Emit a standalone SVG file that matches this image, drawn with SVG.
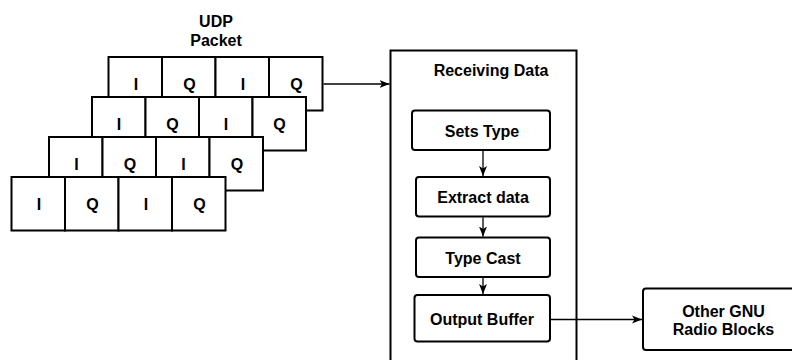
<svg xmlns="http://www.w3.org/2000/svg" width="792" height="360" viewBox="0 0 792 360">
  <defs>
    <style>
      .cell { fill: #ffffff; stroke: #000000; stroke-width: 2; }
      .box { fill: #ffffff; stroke: #000000; stroke-width: 2; }
      .t { font-family: "Liberation Sans", Arial, sans-serif; font-weight: bold; font-size: 16px; fill: #000000; text-anchor: middle; }
      .edge { fill: none; stroke: #000000; stroke-width: 1.3; }
    </style>
    <marker id="arrow" markerUnits="userSpaceOnUse" markerWidth="12" markerHeight="10" refX="10" refY="5" orient="auto">
      <path d="M0,1 L10,5 L0,9 L2.5,5 Z" fill="#000000"/>
    </marker>
  </defs>
  <rect width="792" height="360" fill="#ffffff"/>

  <g id="udp-label">
    <text class="t" x="216" y="26.5">UDP</text>
    <text class="t" x="216" y="45.5">Packet</text>
  </g>

  <g id="packet-row-1">
    <rect class="cell" x="108.5" y="57" width="53.5" height="53.5"/>
    <rect class="cell" x="162" y="57" width="53.5" height="53.5"/>
    <rect class="cell" x="215.5" y="57" width="53.5" height="53.5"/>
    <rect class="cell" x="269" y="57" width="53.5" height="53.5"/>
    <text class="t" x="136" y="90">I</text>
    <text class="t" x="189.5" y="90">Q</text>
    <text class="t" x="243" y="90">I</text>
    <text class="t" x="296.5" y="90">Q</text>
  </g>

  <g id="packet-row-2">
    <rect class="cell" x="92" y="97" width="53.5" height="53.5"/>
    <rect class="cell" x="145.5" y="97" width="53.5" height="53.5"/>
    <rect class="cell" x="199" y="97" width="53.5" height="53.5"/>
    <rect class="cell" x="252.5" y="97" width="53.5" height="53.5"/>
    <text class="t" x="119" y="130">I</text>
    <text class="t" x="172.5" y="130">Q</text>
    <text class="t" x="226" y="130">I</text>
    <text class="t" x="279.5" y="130">Q</text>
  </g>

  <g id="packet-row-3">
    <rect class="cell" x="49" y="137" width="53.5" height="53.5"/>
    <rect class="cell" x="102.5" y="137" width="53.5" height="53.5"/>
    <rect class="cell" x="156" y="137" width="53.5" height="53.5"/>
    <rect class="cell" x="209.5" y="137" width="53.5" height="53.5"/>
    <text class="t" x="76.5" y="169.5">I</text>
    <text class="t" x="130" y="169.5">Q</text>
    <text class="t" x="183.5" y="169.5">I</text>
    <text class="t" x="237" y="169.5">Q</text>
  </g>

  <g id="packet-row-4">
    <rect class="cell" x="11.5" y="177" width="53.5" height="53.5"/>
    <rect class="cell" x="65" y="177" width="53.5" height="53.5"/>
    <rect class="cell" x="118.5" y="177" width="53.5" height="53.5"/>
    <rect class="cell" x="172" y="177" width="53.5" height="53.5"/>
    <text class="t" x="39" y="210">I</text>
    <text class="t" x="92.5" y="210">Q</text>
    <text class="t" x="146" y="210">I</text>
    <text class="t" x="199.5" y="210">Q</text>
  </g>

  <g id="receiving-data">
    <rect class="box" x="390.5" y="50.5" width="186" height="330"/>
    <text class="t" x="491" y="76">Receiving Data</text>
  </g>

  <g id="sets-type">
    <rect class="box" x="412" y="110.5" width="138" height="39.5" rx="3"/>
    <text class="t" x="482" y="136.5">Sets Type</text>
  </g>

  <g id="extract-data">
    <rect class="box" x="416" y="177" width="134" height="39.5" rx="3"/>
    <text class="t" x="483" y="203">Extract data</text>
  </g>

  <g id="type-cast">
    <rect class="box" x="416" y="237.5" width="134" height="39.5" rx="3"/>
    <text class="t" x="483" y="263.5">Type Cast</text>
  </g>

  <g id="output-buffer">
    <rect class="box" x="414.5" y="295" width="135.5" height="46.5" rx="3"/>
    <text class="t" x="482" y="324.5">Output Buffer</text>
  </g>

  <g id="other-gnu">
    <rect class="box" x="643" y="288.5" width="170" height="61.5" rx="3"/>
    <text class="t" x="723.5" y="316.5">Other GNU</text>
    <text class="t" x="723.5" y="335">Radio Blocks</text>
  </g>

  <g id="connectors">
    <path class="edge" d="M323.5,84 L389.5,84" marker-end="url(#arrow)"/>
    <path class="edge" d="M483,151 L483,176" marker-end="url(#arrow)"/>
    <path class="edge" d="M483,217.5 L483,236.5" marker-end="url(#arrow)"/>
    <path class="edge" d="M483,278 L483,294" marker-end="url(#arrow)"/>
    <path class="edge" d="M551,319.5 L642,319.5" marker-end="url(#arrow)"/>
  </g>
</svg>
